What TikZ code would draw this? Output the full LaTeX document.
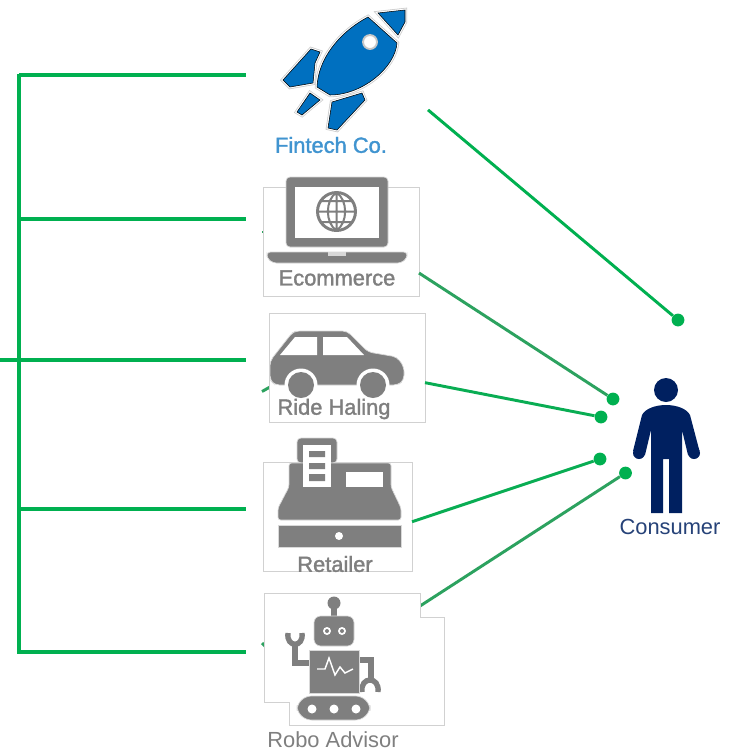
\documentclass[tikz,border=0pt]{standalone}
\usepackage{fontspec}
\setmainfont{Liberation Sans}
\usepackage{xcolor}
\usetikzlibrary{calc,positioning}
\definecolor{linkgreen}{HTML}{00B050}
\definecolor{dullgreen}{HTML}{2CA25F}
\definecolor{iconblue}{HTML}{0070C0}
\definecolor{icongrey}{HTML}{7F7F7F}
\definecolor{navyblue}{HTML}{002060}
\tikzset{
  trunk/.style={linkgreen,line width=2.3pt},
  link/.style={dullgreen,line width=2.2pt},
  tile/.style={draw=black!18,fill=white,line width=.7pt,inner sep=0,outer sep=0},
  hidden/.style={inner sep=0,outer sep=0},
  endpoint/.style={circle,fill=linkgreen,inner sep=0,minimum size=9.6pt},
  caption/.style={inner sep=0,text=icongrey,font=\fontsize{16.4pt}{18pt}\selectfont},
  halo/.style={execute at begin node={\special{pdf:code 2 Tr 0.25 w}},
    execute at end node={\special{pdf:code 0 Tr}}},
  rocketpart/.style={fill=iconblue,preaction={draw=black!20,line width=3.2pt},preaction={draw=white,line width=2pt}},
  grey/.style={fill=icongrey,draw=black!15,line width=.5pt},
  limb/.style={icongrey,line width=4pt},
}
\begin{document}
\begin{tikzpicture}[x=.75pt,y=-.75pt]
  \useasboundingbox[fill=white] (0,0) rectangle (732,751);
  \foreach \y/\name in {75/fin,219/eco,509/ret,652/rob}{
    \coordinate (branch\name) at (246,\y);
    \draw[trunk] (19,\y) -- (branch\name);
  }
  \coordinate (branchrid) at (246,360);
  \coordinate (trunkin) at (0,360);
  \draw[trunk] (trunkin) -- (branchrid);
  \draw[trunk] (19,73.5) -- (19,653.5);

  \coordinate (ecostub) at (262,232);
  \coordinate (ridstub) at (262,391.5);
  \coordinate (robstub) at (262,643);

  \node[endpoint] (dotfin) at (678,320) {};
  \node[endpoint] (doteco) at (613,399) {};
  \node[endpoint] (dotrid) at (601,417) {};
  \node[endpoint] (dotret) at (600,459) {};
  \node[endpoint] (dotrob) at (625.5,473) {};

  \node[hidden,minimum width=117pt,minimum height=114.75pt] (fintech) at (350,81.5) {};
  \node[hidden,minimum width=117pt,minimum height=81.75pt] (robo) at (342,647.5) {};

  \draw[link,linkgreen] (fintech.-20.07) -- (dotfin);
  \draw[link] (robo.28.6) -- (dotrob);
  \draw[link] (robstub) -- ++(3,3);
  \draw[link] (ecostub) -- ++(1,0);
  \draw[link] (ridstub) -- ++(8,-4.5);

  \node[tile,minimum width=117pt,minimum height=81.75pt] (ecommerce) at (341,241.5) {};
  \node[tile,minimum width=117pt,minimum height=81.75pt] (ride) at (347,367.5) {};
  \node[tile,minimum width=111.75pt,minimum height=81.75pt] (retailer) at (337.5,516.5) {};
  \draw[tile] (264,593) -- (420,593) -- (420,617) -- (444,617) -- (444,725) -- (289,725) -- (289,702) -- (264,702) -- cycle;

  \draw[link] (ecommerce.-22.6) -- (doteco);
  \draw[link,linkgreen!80!dullgreen] (ride.-11.9) -- (dotrid);
  \draw[link,linkgreen!80!dullgreen] (retailer.-4.2) -- (dotret);

  % rocket
  \draw[rocketpart] (317,87) .. controls (318,60) and (338,33) .. (368,17) -- (397,43)
    .. controls (395,68) and (362,95) .. (330,95) -- cycle;
  \draw[rocketpart] (378,13) -- (405,10) -- (405,22) -- (398,35) -- cycle;
  \draw[rocketpart] (283,80) -- (311,49) -- (320,52) -- (315,63) -- (313,83) -- (290,87) -- cycle;
  \draw[rocketpart] (297,112) -- (310,93) -- (320,100) -- (302,115) -- cycle;
  \draw[rocketpart] (328,128) -- (332,102) -- (362,93) -- (365,100) -- (337,130) -- cycle;
  \draw[fill=white,draw=black!22,line width=1.4pt] (370,42) circle [radius=7];
  \node[caption,halo,text=iconblue!75!white] (fintechlabel) at (331,145) {Fintech Co.};

  % laptop
  \draw[grey,rounded corners=3pt] (286,177) rectangle (388,247);
  \fill[white] (295,187) rectangle (379,238);
  \draw[icongrey,line width=2.2pt] (336.5,211.5) circle [radius=19];
  \draw[icongrey,line width=1.5pt] (336.5,192.5) -- (336.5,230.5) (317.5,211.5) -- (355.5,211.5)
    (336.5,192.5) .. controls (325,200) and (325,223) .. (336.5,230.5)
    (336.5,192.5) .. controls (348,200) and (348,223) .. (336.5,230.5)
    (321,201) -- (352,201) (321,222) -- (352,222);
  \draw[grey,rounded corners=2.5pt] (267,252) -- (407,252) -- (407,258) -- (401,263) -- (273,263) -- (267,258) -- cycle;
  \fill[white!70!icongrey] (328,252) rectangle (346,255.5);
  \node[caption,halo] (ecolabel) at (337,278) {Ecommerce};

  % car
  \draw[grey,rounded corners=3.5pt] (270,380) -- (270,361) -- (292,333) -- (296,331) -- (347,331) -- (368,352)
    -- (397,357) -- (404,367) -- (404,380) -- (398,385) -- (275,385) -- cycle;
  \fill[white] (280,355) -- (295,337) -- (317,337) -- (317,355) -- cycle;
  \fill[white] (323,337) -- (347,337) -- (364,355) -- (323,355) -- cycle;
  \fill[white] (301,385) circle [radius=16.5] (373,385) circle [radius=16.5];
  \fill[icongrey] (301,385) circle [radius=13] (373,385) circle [radius=13];
  \node[caption,halo] (ridelabel) at (334,409) {Ride Haling};

  % cash register
  \draw[grey,rounded corners=3pt] (297,463) -- (297,438) -- (337,438) -- (337,463) -- cycle;
  \draw[grey,rounded corners=2pt] (289,487) -- (289,463) -- (391,463) -- (391,487) -- (401,508) -- (401,520) -- (278,520) -- (278,508) -- cycle;
  \fill[white] (303,445) rectangle (331,487);
  \fill[icongrey] (309,451) rectangle (325,457) (309,463) rectangle (325,469) (309,474) rectangle (325,481);
  \fill[white] (346,472) rectangle (383,487);
  \draw[grey] (278,525) rectangle (401,547);
  \fill[white] (339,536) circle [radius=4];
  \node[caption,halo] (retlabel) at (335,564) {Retailer};

  % robot
  \draw[limb] (334,603) -- (334,618);
  \fill[icongrey] (334,603) circle [radius=6.5];
  \draw[grey,rounded corners=5pt] (314,616) rectangle (354,646);
  \fill[white] (327,631) circle [radius=4] (342,631) circle [radius=4];
  \fill[icongrey] (327,631) circle [radius=2] (342,631) circle [radius=2];
  \draw[limb] (309,663) -- (295,663) -- (295,645);
  \draw[limb] (288,633) .. controls (286,648) and (304,648) .. (302,633);
  \draw[limb] (359,660) -- (371,660) -- (371,678);
  \draw[limb] (362,692) .. controls (360,676) and (380,676) .. (378,692);
  \draw[grey] (309,650) rectangle (359,693);
  \draw[white,line width=1.1pt] (317,669) -- (325,669) -- (329,658) -- (335,675) -- (340,667) -- (345,673) -- (353,669);
  \draw[grey,rounded corners=11pt] (297,696) rectangle (370,720);
  \fill[white] (312,709) circle [radius=4.5] (334,709) circle [radius=4.5] (356,709) circle [radius=4.5];
  \node[caption] (roblabel) at (333,740) {Robo Advisor};

  % consumer
  \fill[navyblue] (666,390) circle [radius=12];
  \fill[navyblue] (651,513) -- (663,513) -- (663,459) -- (669,459) -- (669,513) -- (682,513) -- (682,430)
    -- (688,455) -- (699.5,451) -- (690,415) .. controls (687,409) and (677,405) .. (666,405)
    .. controls (655,405) and (645,409) .. (642,415) -- (633,451) -- (645,455) -- (651,430) -- cycle;
  \fill[navyblue] (639,453) circle [radius=6] (694,453) circle [radius=6];
  \node[caption,text=navyblue!85!white] (consumer) at (670,527) {Consumer};
\end{tikzpicture}
\end{document}
